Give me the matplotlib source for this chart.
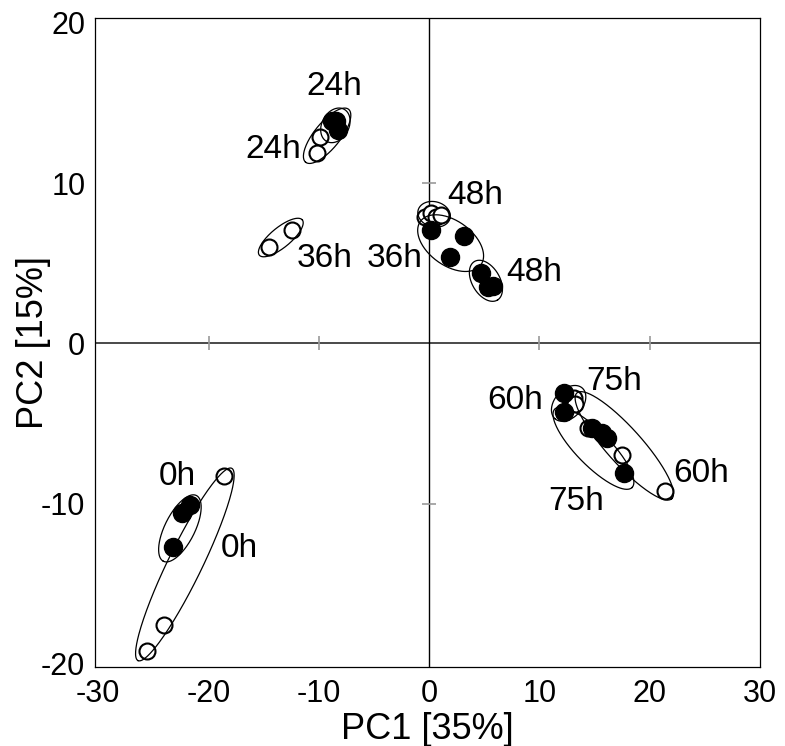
import matplotlib
matplotlib.use("Agg")
import matplotlib.pyplot as plt
import numpy as np

plt.rcParams["font.family"] = ["Liberation Sans", "DejaVu Sans"]
plt.rcParams["axes.unicode_minus"] = False

# PCA scores, open circles (one condition)
open_x = [-18.6, -24.0, -25.6,
          -9.9, -10.2,
          -14.5, -12.4,
          -0.4, 0.2, 0.6, 1.1,
          13.1, 13.2,
          14.4, 17.5, 21.4]
open_y = [-8.3, -17.6, -19.2,
          12.9, 11.9,
          6.0, 7.1,
          7.9, 8.1, 7.9, 8.0,
          -3.4, -3.8,
          -5.3, -7.0, -9.2]

# PCA scores, filled circles (other condition)
filled_x = [-21.7, -22.4, -23.2,
            -8.8, -8.4, -8.3,
            0.2, 3.2, 1.9,
            4.7, 5.3, 5.8,
            12.2, 12.2,
            14.8, 15.7, 16.1, 17.7]
filled_y = [-10.1, -10.6, -12.7,
            13.9, 13.9, 13.3,
            7.1, 6.7, 5.4,
            4.4, 3.5, 3.6,
            -3.1, -4.3,
            -5.3, -5.6, -5.9, -8.1]

# group ellipses: both ends of the long axis + short/long ratio
ell_x1 = [-17.9, -21.1, -7.3, -7.7, -15.4, -0.8, -1.0, 4.1, 13.9, 13.4, 11.4]
ell_y1 = [-7.8, -9.5, 14.6, 14.6, 5.5, 7.6, 8.3, 5.1, -2.8, -3.1, -4.1]
ell_x2 = [-26.4, -24.1, -11.2, -9.3, -11.5, 4.7, 1.9, 6.2, 11.4, 22.0, 18.4]
ell_y2 = [-19.8, -13.6, 11.3, 12.6, 7.7, 4.9, 7.8, 2.7, -4.7, -9.7, -9.0]
ell_ratio = [0.16, 0.41, 0.38, 0.74, 0.36, 0.6, 0.76, 0.62, 0.68, 0.25, 0.31]

label_text = ["24h", "24h", "36h", "36h", "48h", "48h",
              "60h", "75h", "60h", "75h", "0h", "0h"]
label_x = [-8.6, -14.1, -9.5, -3.1, 4.2, 9.5, 7.8, 16.8, 24.7, 13.3, -22.8, -17.2]
label_y = [16.0, 12.1, 5.3, 5.3, 9.2, 4.4, -3.6, -2.4, -8.1, -9.9, -8.3, -12.8]

x_ticks = [-30, -20, -10, 0, 10, 20, 30]
y_ticks = [-20, -10, 0, 10, 20]
inner_x_ticks = [-20, -10, 10, 20]
inner_y_ticks = [-10, 10]


def draw_ellipse(ax, p1, p2, ratio):
    # build the ellipse in pixel space so it keeps its shape, then go back to data
    to_px = ax.transData
    a = to_px.transform(p1)
    b = to_px.transform(p2)
    c = (a + b) / 2
    u = (b - a) / 2
    v = np.array([-u[1], u[0]]) * ratio
    t = np.linspace(0, 2 * np.pi, 240)
    pts = c + np.outer(np.cos(t), u) + np.outer(np.sin(t), v)
    xy = to_px.inverted().transform(pts)
    ax.plot(xy[:, 0], xy[:, 1], color="black", lw=0.9, zorder=3)


fig = plt.figure(figsize=(7.85, 7.46), dpi=100)
ax = fig.add_axes([0.1210, 0.1059, 0.8471, 0.8700])
ax.set_xlim(-30.3, 29.6)
ax.set_ylim(-20.2, 20.3)

ax.axhline(0, color="#3a3a3a", lw=1.3, zorder=1)
ax.axvline(0, color="black", lw=1.0, zorder=1)
ax.plot(inner_x_ticks, [0] * len(inner_x_ticks), ls="none", marker="|",
        ms=10, mew=1.2, color="#9a9a9a", zorder=1)
ax.plot([0] * len(inner_y_ticks), inner_y_ticks, ls="none", marker="_",
        ms=10, mew=1.2, color="#9a9a9a", zorder=1)

ax.plot(open_x, open_y, ls="none", marker="o", ms=11.5, mfc="white",
        mec="black", mew=1.5, zorder=2)
for i in range(len(ell_x1)):
    draw_ellipse(ax, (ell_x1[i], ell_y1[i]), (ell_x2[i], ell_y2[i]), ell_ratio[i])
ax.plot(filled_x, filled_y, ls="none", marker="o", ms=13, mfc="black",
        mec="black", mew=1.0, zorder=4)

for txt, x, y in zip(label_text, label_x, label_y):
    ax.text(x, y, txt, fontsize=24, ha="center", va="center", zorder=5)

ax.set_xticks(x_ticks)
ax.set_yticks(y_ticks)
ax.tick_params(length=0, labelsize=22)
ax.tick_params(axis="x", pad=9)
ax.tick_params(axis="y", pad=7)
for s in ax.spines.values():
    s.set_linewidth(0.9)

ax.set_xlabel("PC1 [35%]", fontsize=26, labelpad=2)
ax.set_ylabel("PC2 [15%]", fontsize=26, labelpad=-7)

fig.savefig("out.png", dpi=100, facecolor="white")
